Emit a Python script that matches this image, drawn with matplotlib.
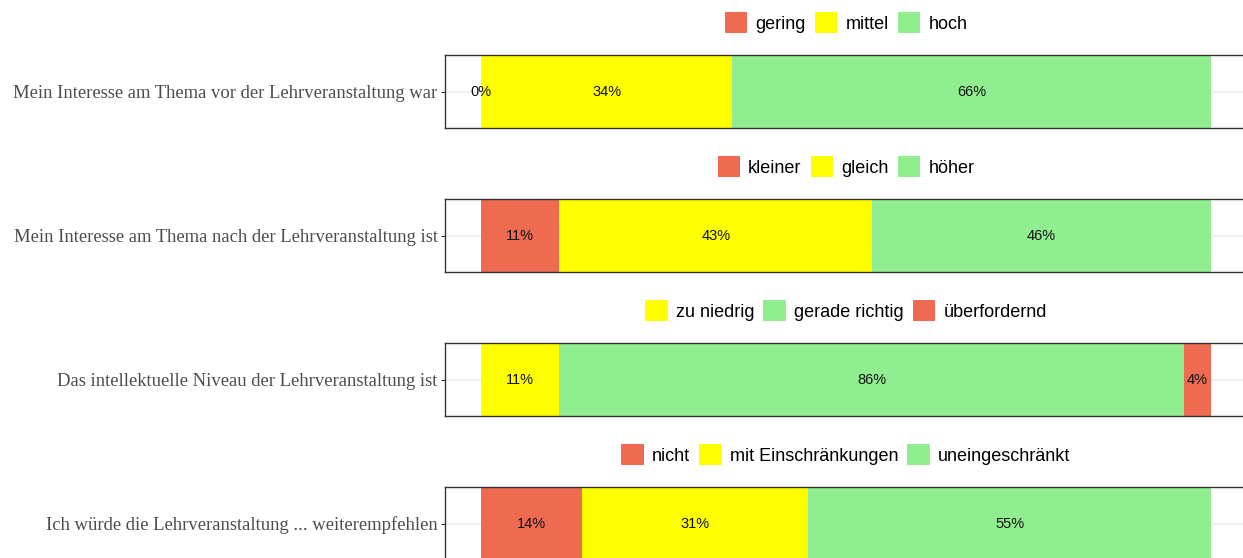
import matplotlib
matplotlib.use("Agg")
import matplotlib.pyplot as plt
from matplotlib.patches import Patch

# ---- data ----
questions = [
    "Mein Interesse am Thema vor der Lehrveranstaltung war",
    "Mein Interesse am Thema nach der Lehrveranstaltung ist",
    "Das intellektuelle Niveau der Lehrveranstaltung ist",
    "Ich würde die Lehrveranstaltung ... weiterempfehlen",
]
cats_1 = ["gering", "mittel", "hoch"]
vals_1 = [0.0, 34.4, 65.6]
cats_2 = ["kleiner", "gleich", "höher"]
vals_2 = [10.7, 42.9, 46.4]
cats_3 = ["zu niedrig", "gerade richtig", "überfordernd"]
vals_3 = [10.7, 85.6, 3.7]
cats_4 = ["nicht", "mit Einschränkungen", "uneingeschränkt"]
vals_4 = [13.8, 31.0, 55.2]

RED = "#EE6A50"
YEL = "#FFFF00"
GRN = "#90EE90"
colors_1 = [RED, YEL, GRN]
colors_2 = [RED, YEL, GRN]
colors_3 = [YEL, GRN, RED]
colors_4 = [RED, YEL, GRN]

panels = [
    (questions[0], cats_1, vals_1, colors_1),
    (questions[1], cats_2, vals_2, colors_2),
    (questions[2], cats_3, vals_3, colors_3),
    (questions[3], cats_4, vals_4, colors_4),
]

W, H = 1243, 558
fig = plt.figure(figsize=(W / 100, H / 100), dpi=100)

left_px, right_px = 444.5, 1247.5
panel_h = 73
for i, (q, cats, vals, cols) in enumerate(panels):
    top = 55 + 144 * i
    ax = fig.add_axes([left_px / W, 1 - (top + panel_h) / H,
                       (right_px - left_px) / W, panel_h / H])
    ax.axhline(0, color="#EBEBEB", lw=1.1, zorder=0)
    cum = 0.0
    for c, v, col in zip(cats, vals, cols):
        ax.barh(0, v, left=cum, height=1.0, color=col, edgecolor="none", zorder=2)
        ax.text(cum + v / 2, 0, f"{v:.0f}%", ha="center", va="center",
                fontsize=10.5, family="Liberation Sans", color="#111111", zorder=3)
        cum += v
    ax.set_xlim(-5, 105)
    ax.set_ylim(-0.5, 0.5)
    ax.set_xticks([])
    ax.set_yticks([0])
    ax.set_yticklabels([q], family="Liberation Serif", fontsize=13.4, color="#4D4D4D")
    ax.tick_params(axis="y", length=3, width=0.8, color="#333333", pad=2)
    for s in ax.spines.values():
        s.set_color("#333333")
        s.set_linewidth(1.0)
    handles = [Patch(facecolor=col, edgecolor="none") for col in cols]
    ax.legend(handles, cats, loc="center", bbox_to_anchor=(0.5, 1 + (55 - 22.5) / panel_h),
              ncol=3, frameon=False, prop={"family": "Liberation Sans", "size": 13},
              handlelength=1.25, handleheight=1.35, handletextpad=0.45,
              columnspacing=0.5, borderaxespad=0)

fig.savefig("out.png", dpi=100)
